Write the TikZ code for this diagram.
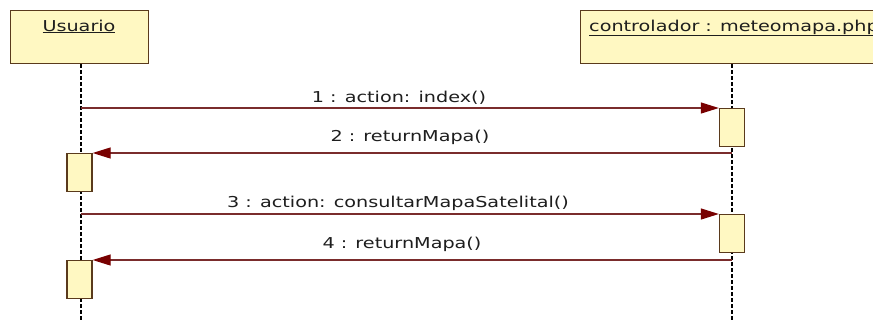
\documentclass[tikz,border=0pt]{standalone}
\usepackage{fontspec}
\newfontfamily\umlfont[FakeStretch=1.28]{DejaVu Sans}
\usetikzlibrary{arrows.meta}
\definecolor{boxfill}{HTML}{FFF8C2}
\definecolor{boxline}{HTML}{5A3A1C}
\definecolor{msgline}{HTML}{7A2C2C}
\definecolor{msghead}{HTML}{780000}
\definecolor{txt}{HTML}{1E1E1E}

\begin{document}
\begin{tikzpicture}[x=1pt,y=-1pt,
  every node/.style={font=\umlfont\fontsize{15}{18}\selectfont, text=txt},
  lifebox/.style={draw=boxline, line width=1.3pt, fill=boxfill, anchor=north west, inner sep=0pt, minimum height=53pt},
  actbox/.style={draw=boxline, line width=1.3pt, fill=boxfill, anchor=north, inner sep=0pt, minimum width=25pt, minimum height=38pt},
  lifeline/.style={line width=1.8pt, dash pattern=on 3.5pt off 2.5pt},
  msg/.style={draw=msgline, line width=1.2pt, -{Triangle[length=18pt,width=11pt,color=msghead,fill=msghead]}},
  lbl/.style={anchor=base, inner sep=0pt}]
\useasboundingbox (0,0) rectangle (873,322);
\clip (0,0) rectangle (873,322);
\fill[white] (0,0) rectangle (873,322);

% lifelines
\coordinate (usrend) at (81,322);
\coordinate (ctlend) at (732,322);
\node[lifebox, minimum width=138pt] (usr) at (10,10) {};
\node[lifebox, minimum width=320pt] (ctl) at (580,10) {};
\draw[lifeline] (usr.south -| usrend) -- (usrend);
\draw[lifeline] (ctl.south -| ctlend) -- (ctlend);

% participant names
\node[anchor=base] (usrname) at (79,31) {\underline{Usuario}};
\node[anchor=base west, inner sep=0pt] (ctlname) at (589,31) {\underline{controlador : meteomapa.php}};

% activations
\node[actbox] (ca1) at (732,108) {};
\node[actbox] (ua1) at (79.5,153) {};
\node[actbox] (ca2) at (732,214) {};
\node[actbox] (ua2) at (79.5,260) {};

% call origins on the lifelines
\coordinate (m1) at (81,108);
\coordinate (r1) at (732,153);
\coordinate (m2) at (81,214);
\coordinate (r2) at (732,260);

% messages
\draw[msg] (m1) -- (ca1.north west);
\draw[msg] (r1) -- (ua1.north east);
\draw[msg] (m2) -- (ca2.north west);
\draw[msg] (r2) -- (ua2.north east);

% message labels
\node[lbl] (l1) at (399,102) {1 : action: index()};
\node[lbl] (l2) at (410,141) {2 : returnMapa()};
\node[lbl] (l3) at (398,207) {3 : action: consultarMapaSatelital()};
\node[lbl] (l4) at (402,248) {4 : returnMapa()};
\end{tikzpicture}
\end{document}
